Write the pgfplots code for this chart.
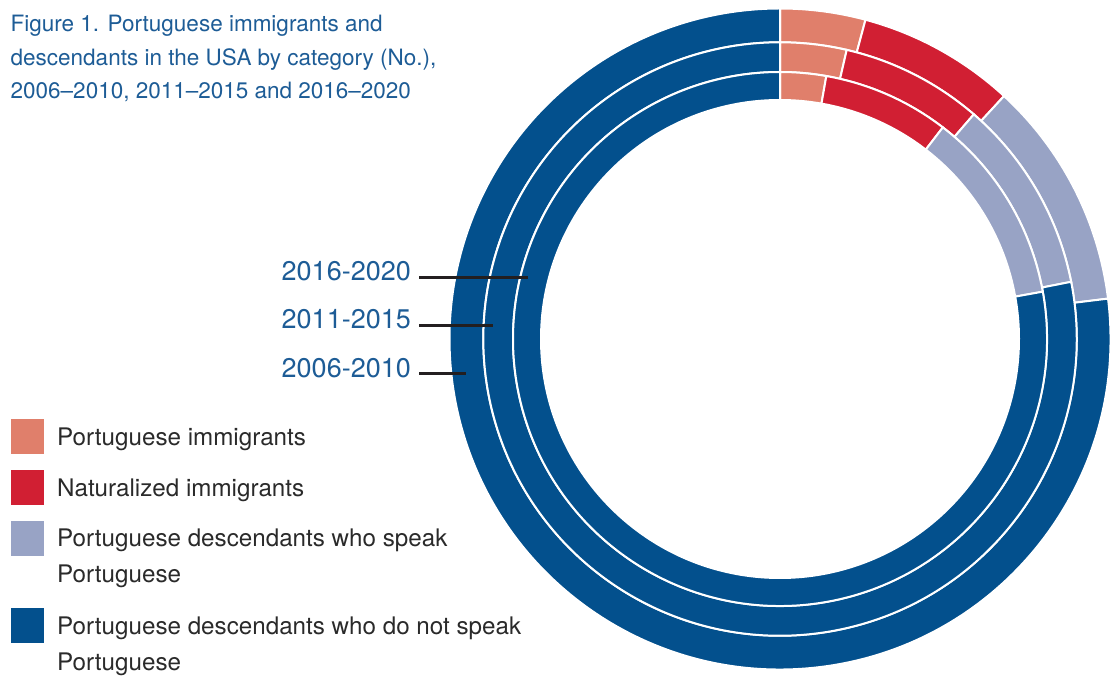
\documentclass[border=0pt]{standalone}
\usepackage{pgfplots}
\pgfplotsset{compat=1.18}
\usepackage{pgfplotstable}
\usepackage{fontspec}
\setmainfont{TeX Gyre Heros}
\usetikzlibrary{calc}

\definecolor{cimm}{HTML}{E07F6B}
\definecolor{cnat}{HTML}{D11F33}
\definecolor{cspk}{HTML}{98A3C5}
\definecolor{cnot}{HTML}{03508D}
\definecolor{ctitle}{HTML}{1D5C96}
\definecolor{ctext}{HTML}{2A2A2A}
\definecolor{cline}{HTML}{231F20}

% values in thousands
\pgfplotstableread{
period    imm   nat   speak  notspeak  rin    rout
2006-2010 58.3  107.7 156.7  1077.3    296.7  330.5
2011-2015 50.2  107.3 147.1  1085.4    267.0  296.7
2016-2020 37.2  102.7 157.1  1043.0    239.0  267.0
}\donutdata

\newcommand\getangles[2]{%
  \pgfplotstablegetelem{#1}{imm}\of\donutdata \edef\va{\pgfplotsretval}%
  \pgfplotstablegetelem{#1}{nat}\of\donutdata \edef\vb{\pgfplotsretval}%
  \pgfplotstablegetelem{#1}{speak}\of\donutdata \edef\vc{\pgfplotsretval}%
  \pgfplotstablegetelem{#1}{notspeak}\of\donutdata \edef\vd{\pgfplotsretval}%
  \pgfplotstablegetelem{#1}{rin}\of\donutdata \expandafter\xdef\csname #2rin\endcsname{\pgfplotsretval}%
  \pgfplotstablegetelem{#1}{rout}\of\donutdata \expandafter\xdef\csname #2rout\endcsname{\pgfplotsretval}%
  \pgfmathsetmacro\tot{\va+\vb+\vc+\vd}%
  \pgfmathsetmacro\aone{90-360*(\va/\tot)}%
  \pgfmathsetmacro\atwo{90-360*((\va+\vb)/\tot)}%
  \pgfmathsetmacro\athree{90-360*((\va+\vb+\vc)/\tot)}%
  \expandafter\xdef\csname #2a\endcsname{\aone}%
  \expandafter\xdef\csname #2b\endcsname{\atwo}%
  \expandafter\xdef\csname #2c\endcsname{\athree}%
}
\getangles{0}{ro}
\getangles{1}{rm}
\getangles{2}{ri}

% color, start angle, end angle, inner radius, outer radius
\newcommand\sector[5]{%
  \fill[#1, draw=white, line width=2bp]
    ($(axis cs:780,338)+(#2:#5bp)$) arc[start angle=#2, end angle=#3, radius=#5bp]
    -- ($(axis cs:780,338)+(#3:#4bp)$) arc[start angle=#3, end angle=#2, radius=#4bp] -- cycle;
}
\newcommand\ring[1]{%
  \sector{cimm}{90}{\csname #1a\endcsname}{\csname #1rin\endcsname}{\csname #1rout\endcsname}
  \sector{cnat}{\csname #1a\endcsname}{\csname #1b\endcsname}{\csname #1rin\endcsname}{\csname #1rout\endcsname}
  \sector{cspk}{\csname #1b\endcsname}{\csname #1c\endcsname}{\csname #1rin\endcsname}{\csname #1rout\endcsname}
  \sector{cnot}{\csname #1c\endcsname}{-270}{\csname #1rin\endcsname}{\csname #1rout\endcsname}
}

\begin{document}
\begin{tikzpicture}
\begin{axis}[
  name=A,
  scale only axis, width=1112bp, height=677bp,
  xmin=0, xmax=1112, ymin=0, ymax=677,
  hide axis, clip=false,
]
\ring{ro}
\ring{rm}
\ring{ri}

% leader lines
\draw[cline, line width=3bp] (axis cs:419,399) -- (axis cs:528,399);
\draw[cline, line width=3bp] (axis cs:419,351) -- (axis cs:493,351);
\draw[cline, line width=3bp] (axis cs:419,303) -- (axis cs:466,303);

% period labels
\node[anchor=base east, inner sep=0pt, text=ctitle, font=\fontsize{27bp}{30bp}\selectfont] at (axis cs:411,396) {2016-2020};
\node[anchor=base east, inner sep=0pt, text=ctitle, font=\fontsize{27bp}{30bp}\selectfont] at (axis cs:411,348) {2011-2015};
\node[anchor=base east, inner sep=0pt, text=ctitle, font=\fontsize{27bp}{30bp}\selectfont] at (axis cs:411,299) {2006-2010};

% title
\node[anchor=base west, inner sep=0pt, text=ctitle, font=\fontsize{22.5bp}{24bp}\selectfont] at (axis cs:10.5,645) {Figure 1. Portuguese immigrants and};
\node[anchor=base west, inner sep=0pt, text=ctitle, font=\fontsize{22.5bp}{24bp}\selectfont] at (axis cs:10.5,611.5) {descendants in the USA by category (No.),};
\node[anchor=base west, inner sep=0pt, text=ctitle, font=\fontsize{22.5bp}{24bp}\selectfont] at (axis cs:10.5,578) {2006--2010, 2011--2015 and 2016--2020};

% legend
\fill[cimm] (axis cs:11,223) rectangle (axis cs:44,258);
\fill[cnat] (axis cs:11,172) rectangle (axis cs:44,207);
\fill[cspk] (axis cs:11,121) rectangle (axis cs:44,156);
\fill[cnot] (axis cs:11,34) rectangle (axis cs:44,69);
\begin{scope}[every node/.style={anchor=base west, inner sep=0pt, text=ctext, font=\fontsize{24.2bp}{28bp}\selectfont}]
\node at (axis cs:57,231) {Portuguese immigrants};
\node at (axis cs:57,180) {Naturalized immigrants};
\node at (axis cs:57,130) {Portuguese descendants who speak};
\node at (axis cs:57,94) {Portuguese};
\node at (axis cs:57,43) {Portuguese descendants who do not speak};
\node at (axis cs:57,7) {Portuguese};
\end{scope}
\end{axis}
\pgfresetboundingbox
\path[use as bounding box] (A.south west) rectangle (A.north east);
\end{tikzpicture}
\end{document}
